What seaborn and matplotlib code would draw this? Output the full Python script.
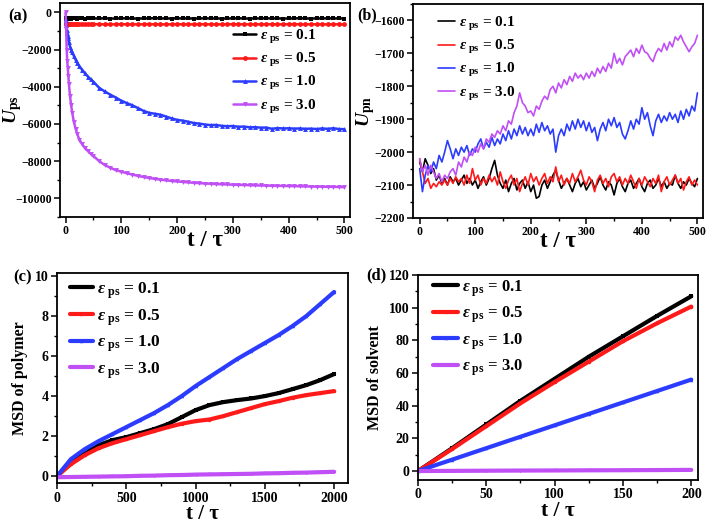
import numpy as np
import pandas as pd
import matplotlib
matplotlib.use("Agg")
import matplotlib.pyplot as plt
import seaborn as sns
from matplotlib.ticker import AutoMinorLocator, MultipleLocator

# ---------------- data ----------------
eps_labels = ["0.1", "0.5", "1.0", "3.0"]
colors = ["#000000", "#ff1a1a", "#2b3cff", "#c04ff5"]
markers = ["s", "o", "^", "v"]

# (a) U_ps vs t
t_a = [0, 1, 2, 3, 4, 5, 6, 8, 10, 12, 15, 18, 21, 25, 30, 35, 40, 45, 50,
       60, 70, 80, 90, 100, 110, 120, 130, 140, 150, 160, 170, 180, 190, 200,
       210, 220, 230, 240, 250, 260, 270, 280, 290, 300, 310, 320, 330, 340, 350,
       360, 370, 380, 390, 400, 410, 420, 430, 440, 450, 460, 470, 480, 490, 500]
ua_01 = [-340, -330, -320, -335, -325, -330, -320, -330, -340, -325, -330, -320, -335, -325, -330, -340, -320, -330, -325,
         -330, -320, -335, -330, -325, -320, -330, -335, -325, -330, -310, -330, -325, -335, -320,
         -330, -325, -335, -330, -320, -330, -325, -335, -330, -325, -320, -330, -335, -325, -330,
         -320, -330, -325, -335, -330, -325, -320, -330, -335, -325, -330, -320, -330, -325, -335]
ua_05 = [-640, -645, -635, -640, -650, -640, -635, -645, -640, -650, -635, -640, -645, -640, -635, -650, -640, -645, -635,
         -640, -645, -650, -640, -635, -645, -640, -650, -640, -635, -645, -640, -650, -640, -635,
         -645, -640, -650, -635, -640, -645, -640, -650, -640, -635, -645, -640, -650, -640, -645,
         -635, -640, -650, -645, -640, -635, -645, -650, -640, -645, -640, -650, -645, -640, -650]
ua_10 = [-400, -700, -950, -1100, -1250, -1400, -1600, -1850, -2000, -2150, -2350, -2550, -2700, -2900, -3100, -3280, -3450, -3600, -3730,
         -4050, -4250, -4420, -4580, -4750, -4880, -5000, -5150, -5300, -5400, -5450, -5500, -5600, -5700, -5780,
         -5820, -5880, -5950, -5980, -6030, -6060, -6050, -6100, -6120, -6110, -6150, -6140, -6180, -6170, -6200,
         -6190, -6260, -6220, -6240, -6230, -6250, -6240, -6260, -6250, -6270, -6240, -6260, -6230, -6270, -6280]
ua_30 = [0, -900, -2000, -2600, -3000, -3400, -3850, -4500, -5000, -5400, -5900, -6250, -6550, -6850, -7100, -7300, -7450, -7600, -7720,
         -7990, -8200, -8350, -8480, -8560, -8650, -8720, -8790, -8850, -8900, -8950, -8990, -9030, -9060, -9090,
         -9110, -9140, -9160, -9180, -9200, -9210, -9230, -9240, -9250, -9260, -9270, -9280, -9290, -9300, -9305,
         -9310, -9320, -9325, -9330, -9335, -9340, -9350, -9355, -9360, -9365, -9370, -9375, -9380, -9385, -9395]

# (b) U_pn vs t (every 5 tau)
t_b = list(range(0, 505, 5))
ub_01 = [-2030, -2060, -2020, -2040, -2065, -2050, -2085, -2070, -2095, -2080,
         -2100, -2075, -2090, -2080, -2100, -2085, -2070, -2095, -2080, -2100,
         -2085, -2110, -2090, -2075, -2100, -2080, -2050, -2025, -2070, -2095,
         -2110, -2085, -2120, -2095, -2080, -2115, -2095, -2085, -2110, -2090,
         -2120, -2100, -2140, -2135, -2100, -2085, -2110, -2090, -2070, -2055,
         -2085, -2110, -2095, -2080, -2100, -2120, -2095, -2080, -2105, -2090,
         -2115, -2100, -2085, -2110, -2095, -2075, -2100, -2115, -2090, -2100,
         -2130, -2095, -2080, -2105, -2120, -2095, -2085, -2110, -2095, -2080,
         -2105, -2120, -2095, -2085, -2110, -2100, -2080, -2105, -2090, -2110,
         -2095, -2100, -2070, -2095, -2110, -2090, -2100, -2080, -2095, -2105,
         -2080]
ub_05 = [-2020, -2060, -2095, -2080, -2110, -2095, -2105, -2090, -2100, -2085,
         -2100, -2080, -2095, -2075, -2090, -2080, -2100, -2070, -2095, -2050,
         -2085, -2070, -2100, -2080, -2095, -2070, -2090, -2075, -2100, -2060,
         -2090, -2110, -2085, -2070, -2100, -2080, -2120, -2095, -2075, -2100,
         -2065, -2090, -2075, -2100, -2080, -2065, -2095, -2075, -2090, -2045,
         -2090, -2070, -2100, -2080, -2095, -2065, -2090, -2075, -2055, -2085,
         -2100, -2075, -2090, -2120, -2085, -2070, -2095, -2080, -2105, -2075,
         -2065, -2090, -2075, -2100, -2080, -2095, -2070, -2090, -2110, -2080,
         -2100, -2075, -2090, -2105, -2080, -2095, -2070, -2120, -2090, -2075,
         -2100, -2085, -2070, -2095, -2080, -2115, -2090, -2075, -2100, -2085,
         -2100]
ub_10 = [-2050, -2120, -2070, -2040, -2060, -2030, -2050, -2010, -2030, -2000,
         -1965, -1990, -2020, -1990, -2010, -1985, -2000, -1980, -2010, -1990,
         -2000, -1975, -1960, -1990, -1970, -1985, -1955, -1980, -1960, -1975,
         -1945, -1965, -1935, -1960, -1930, -1950, -1920, -1945, -1925, -1950,
         -1930, -1950, -1915, -1940, -1910, -1935, -1920, -1945, -1930, -2000,
         -1950, -1930, -1950, -1915, -1935, -1905, -1930, -1900, -1925, -1905,
         -1935, -1910, -1940, -1925, -1965, -1930, -1910, -1935, -1900, -1920,
         -1895, -1925, -1910, -1945, -1960, -1935, -1905, -1930, -1900, -1915,
         -1865, -1900, -1880, -1920, -1950, -1905, -1885, -1910, -1890, -1905,
         -1880, -1900, -1885, -1910, -1875, -1900, -1870, -1890, -1860, -1875,
         -1820]
ub_30 = [-2020, -2060, -2040, -2070, -2040, -2060, -2080, -2065, -2090, -2070,
         -2080, -2060, -2050, -2070, -2030, -2045, -2015, -2030, -2000, -2010,
         -1985, -2000, -1975, -1990, -1960, -1970, -1945, -1955, -1935, -1945,
         -1920, -1935, -1905, -1915, -1880, -1860, -1820, -1850, -1860, -1880,
         -1875, -1890, -1860, -1870, -1845, -1830, -1840, -1810, -1800, -1820,
         -1790, -1805, -1780, -1795, -1770, -1785, -1760, -1775, -1765, -1780,
         -1760, -1775, -1755, -1770, -1745, -1760, -1740, -1755, -1730, -1745,
         -1700, -1730, -1715, -1735, -1710, -1700, -1690, -1710, -1685, -1700,
         -1675, -1695, -1700, -1715, -1725, -1700, -1685, -1695, -1670, -1690,
         -1665, -1680, -1650, -1660, -1645, -1665, -1680, -1695, -1680, -1670,
         -1645]

# (c) MSD of polymer
t_c = list(range(0, 2100, 100))
msd_p_01 = [0, 0.69, 1.2, 1.55, 1.8, 1.95, 2.15, 2.35, 2.6, 2.95, 3.3,
            3.55, 3.7, 3.8, 3.88, 4.0, 4.15, 4.35, 4.55, 4.8, 5.1]
msd_p_05 = [0, 0.6, 1.05, 1.4, 1.65, 1.85, 2.05, 2.25, 2.45, 2.62, 2.75,
            2.83, 3.0, 3.2, 3.4, 3.6, 3.75, 3.92, 4.05, 4.15, 4.25]
msd_p_10 = [0, 0.85, 1.35, 1.75, 2.1, 2.45, 2.8, 3.15, 3.55, 4.0, 4.5,
            4.95, 5.4, 5.85, 6.25, 6.65, 7.05, 7.5, 8.0, 8.6, 9.2]
msd_p_30 = [-0.05, -0.04, -0.03, -0.02, -0.01, 0.0, 0.02, 0.03, 0.05, 0.06, 0.08,
            0.09, 0.1, 0.11, 0.12, 0.14, 0.15, 0.17, 0.18, 0.2, 0.22]

# (d) MSD of solvent
t_d = [0, 25, 50, 75, 100, 125, 150, 175, 200]
msd_s_01 = [0, 14, 28.5, 43, 56.5, 70, 82.5, 95, 107]
msd_s_05 = [0, 13.5, 27.5, 41.5, 54.5, 67, 79.5, 90.5, 100.7]
msd_s_10 = [0, 7, 14, 21, 28, 35, 42, 49, 56]
msd_s_30 = [0, 0.1, 0.2, 0.3, 0.35, 0.45, 0.5, 0.6, 0.7]

# ---------------- style ----------------
sns.set_theme(style="ticks")
plt.rcParams.update({
    "font.family": ["Liberation Serif", "DejaVu Serif"],
    "font.weight": "bold",
    "mathtext.fontset": "custom",
    "mathtext.rm": "Liberation Serif:bold",
    "mathtext.it": "Liberation Serif:italic:bold",
    "mathtext.bf": "Liberation Serif:bold",
    "axes.edgecolor": "black",
    "axes.labelcolor": "black",
    "text.color": "black",
    "xtick.color": "black",
    "ytick.color": "black",
    "axes.linewidth": 1.3,
    "xtick.direction": "out",
    "ytick.direction": "out",
    "xtick.major.size": 4,
    "ytick.major.size": 4,
    "xtick.minor.size": 2.5,
    "ytick.minor.size": 2.5,
    "xtick.major.width": 1.1,
    "ytick.major.width": 1.1,
    "xtick.minor.width": 1.0,
    "ytick.minor.width": 1.0,
    "xtick.major.pad": 2,
    "ytick.major.pad": 2,
})

fig = plt.figure(figsize=(7.09, 5.31), dpi=100)
ax_a = fig.add_axes([0.0846, 0.5913, 0.409, 0.403])
ax_b = fig.add_axes([0.5825, 0.5895, 0.409, 0.403])
ax_c = fig.add_axes([0.0804, 0.0900, 0.4104, 0.3960])
ax_d = fig.add_axes([0.5896, 0.0960, 0.395, 0.386])

def lab(e):
    return r"$\varepsilon_{\ \rm ps}$" + " = " + e

def draw(ax, t, series, lw, ms, use_markers=True):
    for v, c, m, e in zip(series, colors, markers, eps_labels):
        kw = dict(marker=m, markersize=ms, markeredgecolor=c, markerfacecolor=c,
                  markeredgewidth=0) if use_markers else {}
        sns.lineplot(x=t, y=v, ax=ax, color=c, lw=lw, label=lab(e),
                     errorbar=None, sort=False, **kw)

draw(ax_a, t_a, [ua_01, ua_05, ua_10, ua_30], 1.8, 3.5)
draw(ax_b, t_b, [ub_01, ub_05, ub_10, ub_30], 1.2, 0, use_markers=False)
draw(ax_c, t_c, [msd_p_01, msd_p_05, msd_p_10, msd_p_30], 3.0, 2.5)
draw(ax_d, t_d, [msd_s_01, msd_s_05, msd_s_10, msd_s_30], 3.0, 2.5)

# axes limits / ticks
ax_a.set_xlim(-10, 510); ax_a.set_ylim(-11000, 500)
ax_a.xaxis.set_major_locator(MultipleLocator(100)); ax_a.yaxis.set_major_locator(MultipleLocator(2000))
ax_b.set_xlim(-12, 510); ax_b.set_ylim(-2200, -1550)
ax_b.xaxis.set_major_locator(MultipleLocator(100)); ax_b.yaxis.set_major_locator(MultipleLocator(100))
ax_c.set_xlim(0, 2100); ax_c.set_ylim(-0.35, 10.15)
ax_c.xaxis.set_major_locator(MultipleLocator(500)); ax_c.yaxis.set_major_locator(MultipleLocator(2))
ax_d.set_xlim(0, 205); ax_d.set_ylim(-5.5, 120)
ax_d.xaxis.set_major_locator(MultipleLocator(50)); ax_d.yaxis.set_major_locator(MultipleLocator(20))

for ax, ts in [(ax_a, 8.5), (ax_b, 8.5), (ax_c, 10), (ax_d, 10)]:
    ax.xaxis.set_minor_locator(AutoMinorLocator(2))
    ax.yaxis.set_minor_locator(AutoMinorLocator(2))
    ax.tick_params(which="both", top=False, right=False, labelsize=ts)
    for sp in ax.spines.values():
        sp.set_visible(True)
        sp.set_linewidth(1.3)
        sp.set_color("black")

ax_a.set_xlabel("t / τ", fontsize=16.5, fontweight="bold")
ax_b.set_xlabel("t / τ", fontsize=16.5, fontweight="bold")
ax_c.set_xlabel("t / τ", fontsize=15, fontweight="bold")
ax_d.set_xlabel("t / τ", fontsize=15.5, fontweight="bold")

ax_a.set_ylabel(r"$U_{\rm ps}$", fontsize=14)
ax_b.set_ylabel(r"$U_{\rm pn}$", fontsize=14)
ax_c.set_ylabel("MSD of polymer", fontsize=11.5, fontweight="bold")
ax_d.set_ylabel("MSD of solvent", fontsize=11.5, fontweight="bold")

ax_a.yaxis.set_label_coords(-0.125, 0.5)
ax_b.yaxis.set_label_coords(-0.125, 0.5)
ax_c.yaxis.set_label_coords(-0.10, 0.5)
ax_d.yaxis.set_label_coords(-0.125, 0.5)
ax_a.xaxis.set_label_coords(0.5, -0.06)
ax_b.xaxis.set_label_coords(0.5, -0.06)
ax_c.xaxis.set_label_coords(0.5, -0.10)
ax_d.xaxis.set_label_coords(0.5, -0.10)

# legends
leg_specs = [(ax_a, (0.597, 0.885), 11, 1.5),
             (ax_b, (0.086, 0.95), 11, 1.1),
             (ax_c, (0.045, 0.965), 12.5, 1.3),
             (ax_d, (0.054, 0.985), 12, 1.5)]
for ax, anchor, fs, hl in leg_specs:
    h, l = ax.get_legend_handles_labels()
    ax.legend(h, l, loc="upper left", bbox_to_anchor=anchor, frameon=False,
              fontsize=fs, handlelength=hl, handletextpad=0.25,
              labelspacing=0.35, borderpad=0, borderaxespad=0)

# panel labels
fig.text(8 / 709, 1 - 16 / 531, "(a)", fontsize=12, fontweight="bold", va="center", ha="left")
fig.text(357 / 709, 1 - 15 / 531, "(b)", fontsize=11.5, fontweight="bold", va="center", ha="left")
fig.text(13 / 709, 1 - 277 / 531, "(c)", fontsize=12, fontweight="bold", va="center", ha="left")
fig.text(366 / 709, 1 - 275 / 531, "(d)", fontsize=12, fontweight="bold", va="center", ha="left")

fig.savefig("out.png", dpi=100)
